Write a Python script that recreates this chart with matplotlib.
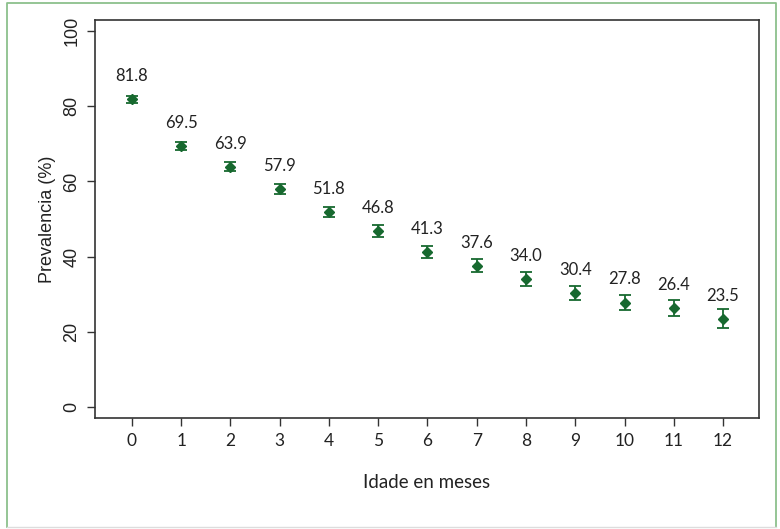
import matplotlib
matplotlib.use("Agg")
from matplotlib import pyplot as plt
from matplotlib.lines import Line2D

# age in months and prevalence (%) with approximate CI half-widths
months = list(range(13))
prevalence = [81.8, 69.5, 63.9, 57.9, 51.8, 46.8, 41.3, 37.6, 34.0, 30.4, 27.8, 26.4, 23.5]
ci_half = [1.0, 1.1, 1.2, 1.3, 1.4, 1.5, 1.6, 1.7, 1.8, 1.9, 2.0, 2.2, 2.5]
yticks = [0, 20, 40, 60, 80, 100]

GREEN = "#17692f"
LABEL_FONT = ["Lato", "DejaVu Sans"]
AXIS_FONT = ["Liberation Sans", "DejaVu Sans"]

fig = plt.figure(figsize=(7.8, 5.29), dpi=100)

# frame around the figure (green on three sides, pale grey at bottom)
W, H = 780, 529
x0, x1, y0, y1 = 7 / W, 776 / W, 1 - 527 / H, 1 - 2.5 / H
fig.lines.append(Line2D([x0, x0, x1, x1], [y0, y1, y1, y0], transform=fig.transFigure,
                        color="#8cc08c", linewidth=1.3))
fig.lines.append(Line2D([x0, x1], [y0, y0], transform=fig.transFigure,
                        color="#dddddd", linewidth=1.0))

ax = fig.add_axes([95 / W, 1 - 418 / H, (759 - 95) / W, (418 - 20) / H])

ax.errorbar(months, prevalence, yerr=ci_half, fmt="D", color=GREEN, markersize=5.5,
            elinewidth=1.3, capsize=4, capthick=1.3)
for m, p in zip(months, prevalence):
    ax.text(m, p + 4.8, f"{p:.1f}", ha="center", va="baseline", fontsize=12,
            family=LABEL_FONT, color="#222222")

ax.set_xlim(-0.75, 12.73)
ax.set_ylim(-2.9, 102.9)
ax.set_xticks(months)
ax.set_xticklabels([str(m) for m in months], family=LABEL_FONT, fontsize=12.5,
                   color="#222222")
ax.set_yticks(yticks)
ax.set_yticklabels([str(v) for v in yticks], family=AXIS_FONT, fontsize=13,
                   rotation=90, va="center", color="#222222")
ax.tick_params(axis="both", direction="out", length=5.5, width=1, color="#333333")
ax.tick_params(axis="x", pad=5)
ax.tick_params(axis="y", pad=5)
for s in ax.spines.values():
    s.set_color("#333333")
    s.set_linewidth(1.2)

ax.set_xlabel("Idade en meses", family=LABEL_FONT, fontsize=13.5, labelpad=18,
              color="#222222")
ax.set_ylabel("Prevalencia (%)", family=AXIS_FONT, fontsize=13, labelpad=5,
              color="#222222")

fig.savefig("out.png", dpi=100)
